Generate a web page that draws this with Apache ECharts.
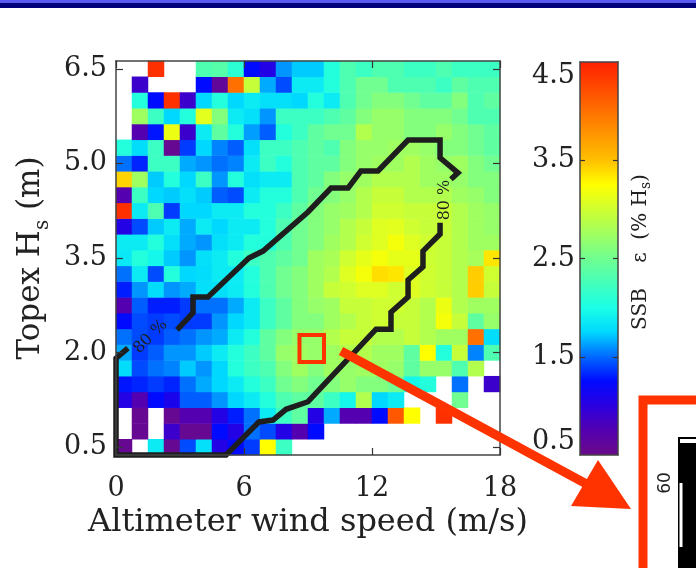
<!DOCTYPE html>
<html>
<head>
<meta charset="utf-8">
<script src="https://cdn.jsdelivr.net/npm/echarts@6/dist/echarts.min.js"></script>
<style>
html,body{margin:0;padding:0;background:#fff;}
#main{width:696px;height:568px;}
</style>
</head>
<body>
<div id="main"></div>
<script>
// wind speed bin centres (m/s) and Hs bin centres (m)
var windBins = ['0.375','1.125','1.875','2.625','3.375','4.125','4.875','5.625','6.375','7.125','7.875','8.625',
                '9.375','10.125','10.875','11.625','12.375','13.125','13.875','14.625','15.375','16.125','16.875','17.625'];
var hsBins = ['0.50','0.75','1.00','1.25','1.50','1.75','2.00','2.25','2.50','2.75','3.00','3.25','3.50',
              '3.75','4.00','4.25','4.50','4.75','5.00','5.25','5.50','5.75','6.00','6.25','6.50'];

var hsTicks = [0.5, 2.0, 3.5, 5.0, 6.5];
var ssbTicks = [0.5, 1.5, 2.5, 3.5, 4.5];

// SSB (% Hs), one row per Hs bin, null = no data
var ssb_650 = [null,null,4.4,null,null,2.3,2.35,2.1,1.25,1.05,1.6,1.72, 1.72,2.05,2.3,2.2,2.3,2.3,2.2,2.2,2.3,2.2,2.2,2.2];
var ssb_625 = [null,0.9,null,null,null,1.25,0.6,4.0,2.95,1.65,1.42,1.87, 1.87,2.05,2.3,2.5,2.5,2.3,2.3,2.3,2.2,2.4,2.3,2.3];
var ssb_600 = [null,2.05,1.25,4.4,0.9,1.75,2.05,1.75,1.87,1.8,1.8,1.75, 2.05,1.87,2.3,2.5,2.6,2.6,2.5,2.4,2.4,2.6,2.3,2.4];
var ssb_575 = [null,2.75,2.2,1.75,2.05,3.1,2.6,1.87,1.8,1.6,2.2,2.2, 2.2,2.3,2.4,2.6,2.7,2.7,2.6,2.6,2.6,2.5,2.3,2.3];
var ssb_550 = [null,0.75,1.28,3.15,0.9,1.87,2.4,2.05,1.62,1.47,2.05,2.2, 2.4,2.5,2.5,2.85,2.7,2.7,2.6,2.6,2.7,2.6,2.5,2.4];
var ssb_525 = [2.05,1.78,2.2,0.55,1.38,1.75,1.56,1.47,1.8,2.2,2.2,2.3, 2.4,2.3,2.6,2.7,2.7,2.75,2.75,2.7,2.6,2.6,2.5,2.4];
var ssb_500 = [1.52,1.32,2.2,2.2,1.65,1.6,1.52,1.56,1.87,2.2,2.05,2.3, 2.4,2.4,2.6,2.7,2.75,2.75,2.85,2.75,2.7,2.75,2.6,2.5];
var ssb_475 = [3.42,2.75,1.72,2.05,1.75,2.2,1.6,2.05,1.8,1.87,1.87,2.3, 2.4,2.6,2.7,2.75,2.85,2.85,2.85,2.75,2.75,2.7,2.6,2.6];
var ssb_450 = [0.75,2.2,1.75,1.72,1.8,1.72,1.47,1.42,1.87,2.05,2.05,2.3, 2.5,2.6,2.7,2.85,2.95,2.95,2.85,2.85,2.85,2.75,2.7,2.6];
var ssb_425 = [4.4,1.87,2.3,1.38,1.75,1.75,1.87,1.87,2.05,2.05,2.2,2.4, 2.6,2.7,2.75,2.85,3.0,3.0,2.95,2.95,2.95,2.85,2.75,2.7];
var ssb_400 = [1.05,1.42,1.72,1.87,1.65,1.87,1.75,1.87,1.87,2.05,2.3,2.5, 2.6,2.7,2.85,2.95,3.08,3.1,3.0,2.95,2.95,2.85,2.75,2.7];
var ssb_375 = [1.87,1.87,2.05,1.8,1.65,1.6,1.8,1.87,2.05,2.05,2.3,2.5, 2.6,2.75,2.85,3.0,3.08,3.2,3.08,3.0,2.95,2.85,2.75,2.75];
var ssb_350 = [1.85,2.05,1.95,1.72,1.6,1.8,1.87,2.05,2.2,2.3,2.4,2.5, 2.75,2.8,3.0,3.12,3.2,3.12,3.12,2.98,2.95,2.85,2.78,3.35];
var ssb_325 = [1.52,1.87,1.42,2.05,1.75,1.78,1.87,1.87,2.05,2.3,2.5,2.6, 2.75,2.85,3.08,3.2,3.38,3.35,3.08,3.0,2.95,2.85,3.45,3.0];
var ssb_300 = [1.3,1.6,1.78,1.6,1.65,1.8,1.8,1.87,2.05,2.3,2.5,2.6, 2.75,2.95,3.0,3.08,3.08,3.0,3.08,3.0,2.95,2.85,3.45,2.95];
var ssb_275 = [0.75,1.47,1.3,1.3,1.38,1.52,1.52,1.65,1.87,2.2,2.4,2.6, 2.7,2.75,2.95,2.95,3.0,3.0,2.95,2.85,3.15,2.85,2.75,2.75];
var ssb_250 = [1.25,1.42,1.38,1.42,1.38,1.38,1.6,1.75,1.87,2.2,2.4,2.6, 2.6,2.75,2.85,2.95,3.0,2.95,2.95,2.85,3.2,2.95,2.4,2.7];
var ssb_225 = [1.52,1.42,1.38,1.47,1.52,1.6,1.65,1.87,2.05,2.4,2.6,2.7, 2.7,2.85,2.95,2.95,2.85,2.85,2.95,2.85,2.75,2.75,4.0,1.78];
var ssb_200 = [1.65,1.38,1.47,1.6,1.6,1.72,1.87,2.05,2.2,2.4,2.7,2.75, 2.7,2.75,2.85,2.85,2.75,2.75,2.4,3.25,2.05,2.95,1.56,2.3];
var ssb_175 = [1.78,1.42,1.52,1.56,1.72,1.6,1.75,2.05,2.2,2.3,2.6,2.75, 2.6,2.75,2.7,2.75,2.75,2.7,2.4,2.7,2.7,2.3,2.85,null];
var ssb_150 = [1.28,1.32,1.38,1.32,1.52,1.65,1.75,1.87,2.05,2.2,2.5,2.6, 2.5,2.6,2.7,2.6,2.6,2.5,1.95,2.05,null,1.52,null,0.9];
var ssb_125 = [1.05,0.75,1.25,1.1,1.47,1.47,1.6,1.75,1.87,2.05,2.3,2.4, 2.4,2.2,1.95,2.85,1.75,1.87,null,null,null,2.5,null,null];
var ssb_100 = [null,0.55,null,0.55,0.75,0.75,1.05,1.3,1.52,1.87,2.2,2.4, 1.05,1.65,0.75,0.75,1.25,4.15,3.25,null,4.4,null,null,null];
var ssb_075 = [null,0.55,null,0.9,0.55,0.55,1.25,1.05,1.52,1.42,1.05,0.75, 1.25,null,null,null,null,null,null,null,null,null,null,null];
var ssb_050 = [0.55,null,1.87,0.55,1.42,1.8,1.05,1.25,1.38,3.25,2.2,null, null,null,null,null,null,null,null,null,null,null,null,null];

var ssbRows = [ssb_050,ssb_075,ssb_100,ssb_125,ssb_150,ssb_175,ssb_200,ssb_225,ssb_250,ssb_275,ssb_300,ssb_325,ssb_350,
               ssb_375,ssb_400,ssb_425,ssb_450,ssb_475,ssb_500,ssb_525,ssb_550,ssb_575,ssb_600,ssb_625,ssb_650];

// 80 % contour, [wind, Hs], split where the labels sit
var contourUpper = [[2.86,2.36],[3.61,2.63],[3.61,2.88],[4.31,2.88],[6.23,3.50],[6.89,3.61],[9.0,4.23],[10.08,4.61],
                    [10.88,4.61],[11.48,4.88],[12.28,4.88],[13.69,5.37],[15.19,5.37],[15.19,5.09],[16.03,4.85],[15.70,4.75]];
var contourLower = [[15.19,4.06],[15.19,3.88],[14.39,3.61],[14.39,3.36],[13.69,3.15],[13.69,2.88],[12.89,2.64],[12.89,2.37],
                    [12.19,2.37],[9.0,1.22],[7.97,1.10],[7.36,0.93],[6.70,0.90],[5.16,0.375],[0,0.375],[0,1.91],[0.56,2.07]];
var contourLabels = [[1.62,2.25],[15.4,4.42]];
var boxWind = [8.6, 9.75];
var boxHs = [1.85, 2.28];

var jet = ['#6a0a8a','#5400b0','#2c00e0','#000aff','#0068ff','#00d8ff','#1affe6','#45ffba','#70ff90',
           '#a0ff60','#cfff30','#ffff00','#ffc000','#ff9800','#ff7000','#ff4800','#ff2000'];

var serif = 'DejaVu Serif';
var heatData = [];
ssbRows.forEach(function(row, i){
    row.forEach(function(v, j){
        if(v !== null) heatData.push([j, i, v]);
    });
});

var dom = document.getElementById('main');
var myChart = echarts.init(dom);

var tickStyle = {color:'#333', width:1.2};
var frameLine = {show:true, onZero:false, lineStyle:{color:'#444', width:1.5}};

var option = {
    animation:false,
    backgroundColor:'#fff',
    grid:[
        {left:116, top:61, width:384, height:394, show:false},
        {left:580, top:62, width:38, height:393, show:false}
    ],
    visualMap:{
        type:'continuous',
        show:false,
        seriesIndex:0,
        min:0.5,
        max:4.5,
        inRange:{color:jet}
    },
    xAxis:[
        {type:'category', gridIndex:0, data:windBins, show:false},
        {type:'value', gridIndex:0, min:0, max:18, interval:6, position:'bottom', z:5,
            axisLine:frameLine,
            axisTick:{inside:true, length:7, lineStyle:tickStyle},
            axisLabel:{margin:20, color:'#222', fontFamily:serif, fontSize:27},
            splitLine:{show:false},
            name:'Altimeter wind speed (m/s)', nameLocation:'middle', nameGap:52,
            nameTextStyle:{color:'#222', fontFamily:serif, fontSize:32}
        },
        {type:'value', gridIndex:0, min:0, max:18, interval:6, position:'top', z:5,
            axisLine:frameLine,
            axisTick:{inside:true, length:7, lineStyle:tickStyle},
            axisLabel:{show:false}, splitLine:{show:false}
        },
        {type:'value', gridIndex:1, min:0, max:1, position:'bottom', z:5,
            axisLine:frameLine, axisTick:{show:false}, axisLabel:{show:false}, splitLine:{show:false}},
        {type:'value', gridIndex:1, min:0, max:1, position:'top', z:5,
            axisLine:frameLine, axisTick:{show:false}, axisLabel:{show:false}, splitLine:{show:false}}
    ],
    yAxis:[
        {type:'category', gridIndex:0, data:hsBins, show:false},
        {type:'value', gridIndex:0, min:0.375, max:6.625, position:'left', z:5,
            axisLine:frameLine,
            axisTick:{inside:true, length:7, customValues:hsTicks, lineStyle:tickStyle},
            axisLabel:{margin:9, customValues:hsTicks, color:'#222', fontFamily:serif, fontSize:27,
                formatter:function(v){ return v.toFixed(1); }},
            splitLine:{show:false},
            name:'Topex H{sub|s} (m)', nameLocation:'middle', nameGap:68,
            nameTextStyle:{color:'#222', fontFamily:serif, fontSize:31, lineHeight:31,
                rich:{sub:{fontFamily:serif, fontSize:20, color:'#222', verticalAlign:'top', padding:[18,0,0,0]}}}
        },
        {type:'value', gridIndex:0, min:0.375, max:6.625, position:'right', z:5,
            axisLine:frameLine,
            axisTick:{inside:true, length:7, customValues:hsTicks, lineStyle:tickStyle},
            axisLabel:{show:false}, splitLine:{show:false}
        },
        {type:'value', gridIndex:1, min:0.5, max:4.5, position:'left', z:5,
            axisLine:frameLine,
            axisTick:{inside:true, length:5, customValues:[1.5,2.5,3.5], lineStyle:tickStyle},
            axisLabel:{margin:5, customValues:ssbTicks, color:'#222', fontFamily:serif, fontSize:27,
                verticalAlignMaxLabel:'top', verticalAlignMinLabel:'bottom',
                formatter:function(v){ return v.toFixed(1); }},
            splitLine:{show:false}
        },
        {type:'value', gridIndex:1, min:0.5, max:4.5, position:'right', z:5,
            axisLine:frameLine,
            axisTick:{inside:true, length:5, customValues:[1.5,2.5,3.5], lineStyle:tickStyle},
            axisLabel:{show:false}, splitLine:{show:false}
        }
    ],
    series:[
        {
            type:'heatmap',
            xAxisIndex:0,
            yAxisIndex:0,
            data:heatData,
            itemStyle:{borderWidth:0},
            emphasis:{disabled:true}
        },
        {
            type:'line', xAxisIndex:1, yAxisIndex:1, data:contourUpper,
            symbol:'none', clip:false, z:4,
            lineStyle:{color:'#1e1e1e', width:5.5, join:'miter'}
        },
        {
            type:'line', xAxisIndex:1, yAxisIndex:1, data:contourLower,
            symbol:'none', clip:false, z:4,
            lineStyle:{color:'#1e1e1e', width:5.5, join:'miter'}
        }
    ]
};

myChart.setOption(option);

// colour bar, contour labels, marked box, arrow and the cut-off inset
var toPx = function(p){ return myChart.convertToPixel({xAxisIndex:1, yAxisIndex:1}, p); };
var cbTop = myChart.convertToPixel({xAxisIndex:3, yAxisIndex:3}, [0, 4.5]);
var cbBot = myChart.convertToPixel({xAxisIndex:3, yAxisIndex:3}, [1, 0.5]);
var lab1 = toPx(contourLabels[0]);
var lab2 = toPx(contourLabels[1]);
var b0 = toPx([boxWind[0], boxHs[1]]);
var b1 = toPx([boxWind[1], boxHs[0]]);
var red = '#ff3300';
var cbStops = jet.map(function(c, i){ return {offset:i/(jet.length-1), color:c}; });

myChart.setOption({
    graphic:[
        {type:'rect', shape:{x:0, y:0, width:696, height:3}, style:{fill:'#5a5af0'}, z:10},
        {type:'rect', shape:{x:0, y:3, width:696, height:5}, style:{fill:'#00007a'}, z:10},
        {type:'rect', shape:{x:cbTop[0], y:cbTop[1], width:cbBot[0]-cbTop[0], height:cbBot[1]-cbTop[1]}, z:1,
            style:{fill:new echarts.graphic.LinearGradient(0, 1, 0, 0, cbStops)}},
        {type:'text', x:lab1[0], y:lab1[1], rotation:Math.PI/4, z:10,
            style:{text:'80 %', font:'16px "DejaVu Serif"', fill:'#1e1e1e', align:'center', verticalAlign:'middle',
                textAlign:'center', textVerticalAlign:'middle'}},
        {type:'text', x:lab2[0], y:lab2[1], rotation:Math.PI/2, z:10,
            style:{text:'80 %', font:'16px "DejaVu Serif"', fill:'#1e1e1e', align:'center', verticalAlign:'middle',
                textAlign:'center', textVerticalAlign:'middle'}},
        {type:'rect', shape:{x:b0[0], y:b0[1], width:b1[0]-b0[0], height:b1[1]-b0[1]}, z:10,
            style:{fill:null, stroke:red, lineWidth:4}},
        {type:'line', shape:{x1:341, y1:351, x2:592, y2:487}, z:11, style:{stroke:red, lineWidth:9}},
        {type:'polygon', shape:{points:[[598,460],[631,509],[571,506]]}, z:11, style:{fill:red}},
        {type:'text', x:641, y:252, rotation:Math.PI/2, z:10,
            style:{text:'SSB    \u03b5  (% H{sub|s})', font:'20px "DejaVu Serif"', fill:'#222',
                align:'center', verticalAlign:'middle', textAlign:'center', textVerticalAlign:'middle',
                rich:{sub:{font:'14px "DejaVu Serif"', fill:'#222', verticalAlign:'top', padding:[11,0,0,0]}}}},
        {type:'rect', shape:{x:643, y:400, width:200, height:300}, z:10,
            style:{fill:'#fff', stroke:red, lineWidth:9}},
        {type:'rect', shape:{x:678, y:437, width:40, height:200}, z:11, style:{fill:'#000'}},
        {type:'rect', shape:{x:679.5, y:438.5, width:40, height:5}, z:12, style:{fill:'#fff', stroke:'#000', lineWidth:1}},
        {type:'rect', shape:{x:679.5, y:483, width:3, height:64}, z:12, style:{fill:'#fff'}},
        {type:'text', x:666, y:483, rotation:Math.PI/2, z:12,
            style:{text:'60', font:'17px "DejaVu Sans"', fill:'#222', align:'center', verticalAlign:'middle',
                textAlign:'center', textVerticalAlign:'middle'}}
    ]
});

window.addEventListener('resize', function(){
    myChart.resize();
});
</script>
</body>
</html>
